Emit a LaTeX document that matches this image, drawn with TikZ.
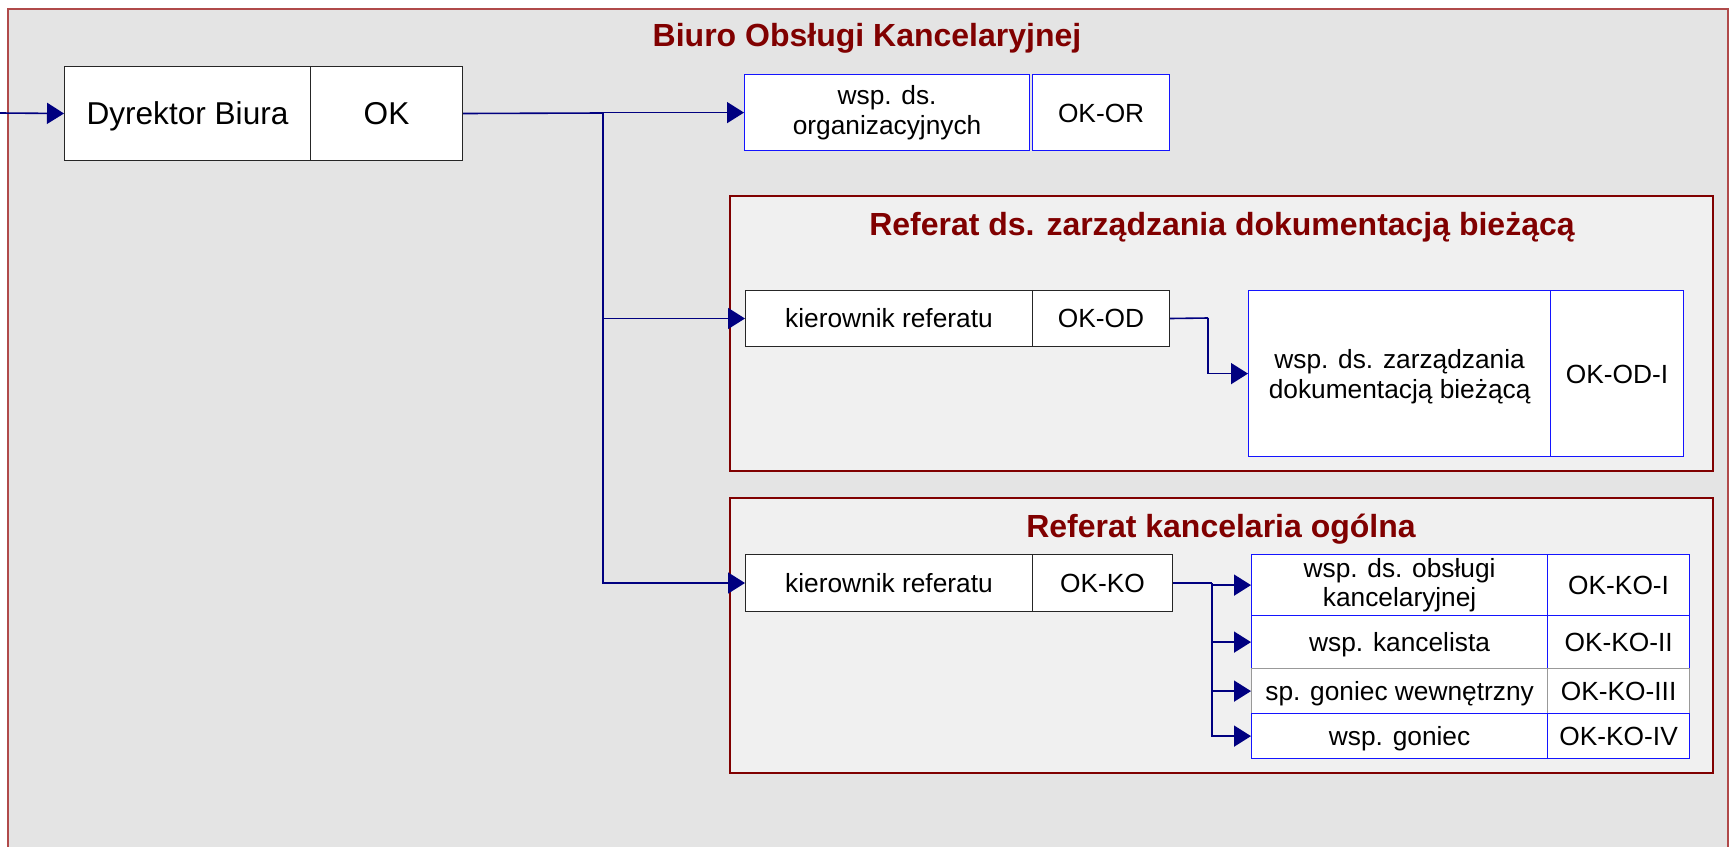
\documentclass[tikz,border=0pt]{standalone}
\usepackage{fontspec}
\setmainfont{Liberation Sans}
\usetikzlibrary{arrows.meta}
\definecolor{outerfill}{HTML}{E4E4E4}
\definecolor{outerline}{HTML}{B04A4A}
\definecolor{reffill}{HTML}{F0F0F0}
\definecolor{refline}{HTML}{800000}
\definecolor{ttlcol}{HTML}{800000}
\definecolor{navyc}{HTML}{000080}
\definecolor{bluec}{HTML}{1414FF}
\newcommand\myBody{\fontsize{26.3}{29.5}\selectfont}
\newcommand\myBig{\fontsize{31.6}{34}\selectfont}
\newcommand\myTitle{\fontsize{32}{36}\selectfont\bfseries}
\begin{document}
\begin{tikzpicture}[x=1pt,y=-1pt,
  cellk/.style={draw=black!85, fill=white, line width=1pt, inner sep=0pt, anchor=north west, align=center, font=\myBody},
  cellb/.style={cellk, draw=bluec, line width=1.2pt},
  cellg/.style={cellk, draw=black!40, line width=1.2pt},
  one/.style={text height=18.8pt, text depth=0pt},
  onebig/.style={text height=22.6pt, text depth=0pt},
  celltext/.style={font=\myBody, align=center, inner sep=0pt},
  ttl/.style={text=ttlcol, font=\myTitle, anchor=base, inner sep=0pt},
  outerbox/.style={fill=outerfill, draw=outerline, line width=1.2pt},
  refbox/.style={fill=reffill, draw=refline, line width=1.5pt},
  wire/.style={draw=navyc, line width=1.6pt},
  arr/.style={wire, -{Triangle[length=17pt,width=21pt]}}
]
\useasboundingbox (0,0) rectangle (1736,846);
\clip (0,0) rectangle (1736,846);
\fill[white] (0,0) rectangle (1736,846);

% outer container
\draw[outerbox] (8,9) rectangle (1728,880);
\node[ttl] (tbiuro) at (867,46) {Biuro Obsługi Kancelaryjnej};

% director
\node[cellk, onebig, font=\myBig, minimum width=246, minimum height=94] (dyr) at (64,66) {Dyrektor Biura};
\node[cellk, onebig, font=\myBig, minimum width=152, minimum height=94] (ok) at (310,66) {OK};

% organisational assistant
\node[cellb, minimum width=285, minimum height=76] (org) at (744,74) {wsp. ds.\\organizacyjnych};
\node[cellb, one, minimum width=137, minimum height=76] (okor) at (1032,74) {OK-OR};

% referat 1
\draw[refbox] (730,196) rectangle (1713,471);
\node[ttl] (tref1) at (1222,235) {Referat ds. zarządzania dokumentacją bieżącą};
\node[cellk, one, minimum width=287, minimum height=56] (kod) at (745,290) {kierownik referatu};
\node[cellk, one, minimum width=137, minimum height=56] (okod) at (1032,290) {OK-OD};
\node[cellb, minimum width=302, minimum height=166] (wz) at (1248,290) {};
\node[celltext] (wzt) at ([yshift=-3.3pt]wz.center) {wsp. ds. zarządzania\\dokumentacją bieżącą};
\node[cellb, one, minimum width=133, minimum height=166] (wzc) at (1550,290) {OK-OD-I};

% referat 2
\draw[refbox] (730,498) rectangle (1713,773);
\node[ttl] (tref2) at (1221,537) {Referat kancelaria ogólna};
\node[cellk, one, minimum width=287, minimum height=57] (kko) at (745,554) {kierownik referatu};
\node[cellk, one, minimum width=140, minimum height=57] (okko) at (1032,554) {OK-KO};

\node[cellb, minimum width=296, minimum height=61] (r1) at (1251,554) {wsp. ds. obsługi\\kancelaryjnej};
\node[cellb, one, minimum width=142, minimum height=61] (c1) at (1547,554) {OK-KO-I};
\node[cellb, one, minimum width=296, minimum height=53] (r2) at (1251,615) {wsp. kancelista};
\node[cellb, one, minimum width=142, minimum height=53] (c2) at (1547,615) {OK-KO-II};
\node[cellg, one, minimum width=296, minimum height=45] (r3) at (1251,668) {sp. goniec wewnętrzny};
\node[cellg, one, minimum width=142, minimum height=45] (c3) at (1547,668) {OK-KO-III};
\node[cellb, one, minimum width=296, minimum height=45] (r4) at (1251,713) {wsp. goniec};
\node[cellb, one, minimum width=142, minimum height=45] (c4) at (1547,713) {OK-KO-IV};

% connectors
\coordinate (in) at (0,113);
\draw[arr] (in) -- (dyr.west);
\coordinate (tr) at (603,113);
\draw[wire] (ok.east) -- (tr);
\draw[arr] (tr) |- (org.west);
\draw[arr] (tr) |- (kod.west);
\draw[arr] (tr) |- (kko.west);

\coordinate (odj) at (1208,318);
\draw[wire] (okod.east) -- (odj);
\draw[arr] (odj) |- (wz.west);

\coordinate (koj) at (1212,583);
\draw[wire] (okko.east) -- (koj);
\draw[arr] (koj) |- (r1.west);
\draw[arr] (koj) |- (r2.west);
\draw[arr] (koj) |- (r3.west);
\draw[arr] (koj) |- (r4.west);
\end{tikzpicture}
\end{document}
